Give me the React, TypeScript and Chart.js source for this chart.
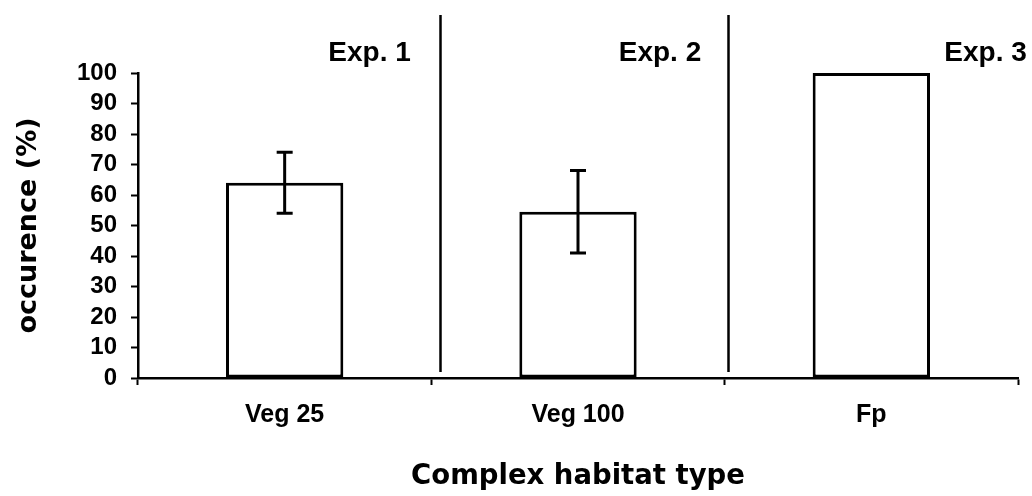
import React, { useEffect, useRef } from "react";
import { Chart, registerables } from "chart.js";

Chart.register(...registerables);

const categories = ["Veg 25", "Veg 100", "Fp"];
const occurrence = [64, 54.5, 100];
const errorHalf = [10, 13.5, 0];
const yTicks = [0, 10, 20, 30, 40, 50, 60, 70, 80, 90, 100];
const expLabels = ["Exp. 1", "Exp. 2", "Exp. 3"];
// right edge of each experiment label, in category-index units
const expLabelRight = [0.43, 1.42, 2.53];
// vertical separators between experiments, in category-index units
const separatorPos = [0.53, 1.51];

const W = 1032;
const H = 496;

const catToPx = (scale: any, v: number) => {
  const p0 = scale.getPixelForValue(0);
  const p1 = scale.getPixelForValue(1);
  return p0 + (p1 - p0) * v;
};

const decorPlugin = {
  id: "decor",
  afterDatasetsDraw(chart: any) {
    const ctx = chart.ctx;
    const xs = chart.scales.x;
    const ys = chart.scales.y;
    const meta = chart.getDatasetMeta(0);
    ctx.save();
    // error bars
    ctx.strokeStyle = "#000";
    ctx.lineWidth = 3;
    meta.data.forEach((el: any, i: number) => {
      const e = errorHalf[i];
      if (!e) return;
      const x = el.x;
      const yt = ys.getPixelForValue(occurrence[i] + e);
      const yb = ys.getPixelForValue(occurrence[i] - e);
      ctx.beginPath();
      ctx.moveTo(x, yt);
      ctx.lineTo(x, yb);
      ctx.moveTo(x - 8, yt);
      ctx.lineTo(x + 8, yt);
      ctx.moveTo(x - 8, yb);
      ctx.lineTo(x + 8, yb);
      ctx.stroke();
    });
    // separators
    ctx.lineWidth = 2.5;
    separatorPos.forEach((v) => {
      const x = Math.round(catToPx(xs, v)) + 0.5;
      ctx.beginPath();
      ctx.moveTo(x, 15);
      ctx.lineTo(x, chart.chartArea.bottom - 6);
      ctx.stroke();
    });
    // experiment labels
    ctx.fillStyle = "#000";
    ctx.font = "bold 28px 'Liberation Sans', Arial, sans-serif";
    ctx.textAlign = "right";
    ctx.textBaseline = "alphabetic";
    expLabels.forEach((t, i) => {
      ctx.fillText(t, catToPx(xs, expLabelRight[i]), 61);
    });
    ctx.restore();
  },
};

export default function App() {
  const ref = useRef<HTMLCanvasElement | null>(null);
  useEffect(() => {
    if (!ref.current) return;
    const chart = new Chart(ref.current, {
      type: "bar",
      data: {
        labels: categories,
        datasets: [
          {
            data: occurrence,
            backgroundColor: "#ffffff",
            borderColor: "#000000",
            borderWidth: 3,
            borderSkipped: false,
            barPercentage: 0.4,
            categoryPercentage: 1,
          },
        ],
      },
      options: {
        animation: false,
        responsive: false,
        maintainAspectRatio: false,
        layout: { padding: { top: 73, right: 14, left: 0, bottom: 0 } },
        plugins: {
          legend: { display: false },
          tooltip: { enabled: false },
        },
        scales: {
          x: {
            offset: true,
            grid: {
              display: true,
              offset: true,
              drawOnChartArea: false,
              drawTicks: true,
              tickLength: 7,
              tickWidth: 2,
              tickColor: "#000",
            },
            border: { display: true, color: "#000", width: 2.5 },
            ticks: {
              color: "#000",
              padding: 15,
              font: { family: "'Liberation Sans', Arial, sans-serif", size: 25, weight: "bold" },
            },
            title: {
              display: true,
              text: "Complex habitat type",
              color: "#000",
              padding: { top: 0, bottom: 3 },
              font: { family: "'DejaVu Sans', sans-serif", size: 27.5, weight: "bold" },
            },
            afterFit(scale: any) {
              scale.height = H - 378;
            },
          },
          y: {
            min: 0,
            max: 100,
            afterBuildTicks(scale: any) {
              scale.ticks = yTicks.map((v) => ({ value: v }));
            },
            grid: {
              display: true,
              drawOnChartArea: false,
              drawTicks: true,
              tickLength: 7,
              tickWidth: 2,
              tickColor: "#000",
            },
            border: { display: true, color: "#000", width: 2.5 },
            ticks: {
              color: "#000",
              padding: 14,
              autoSkip: false,
              font: { family: "'Liberation Sans', Arial, sans-serif", size: 24, weight: "bold" },
            },
            title: {
              display: true,
              text: "occurence (%)",
              color: "#000",
              padding: { top: 13, bottom: 0 },
              font: { family: "'DejaVu Sans', sans-serif", size: 27, weight: "bold" },
            },
            afterFit(scale: any) {
              scale.width = 138;
            },
          },
        },
      },
      plugins: [decorPlugin],
    });
    return () => chart.destroy();
  }, []);
  return (
    <div style={{ position: "absolute", left: 0, top: 0, width: W, height: H, background: "#fff" }}>
      <canvas ref={ref} width={W} height={H} style={{ display: "block" }} />
    </div>
  );
}
